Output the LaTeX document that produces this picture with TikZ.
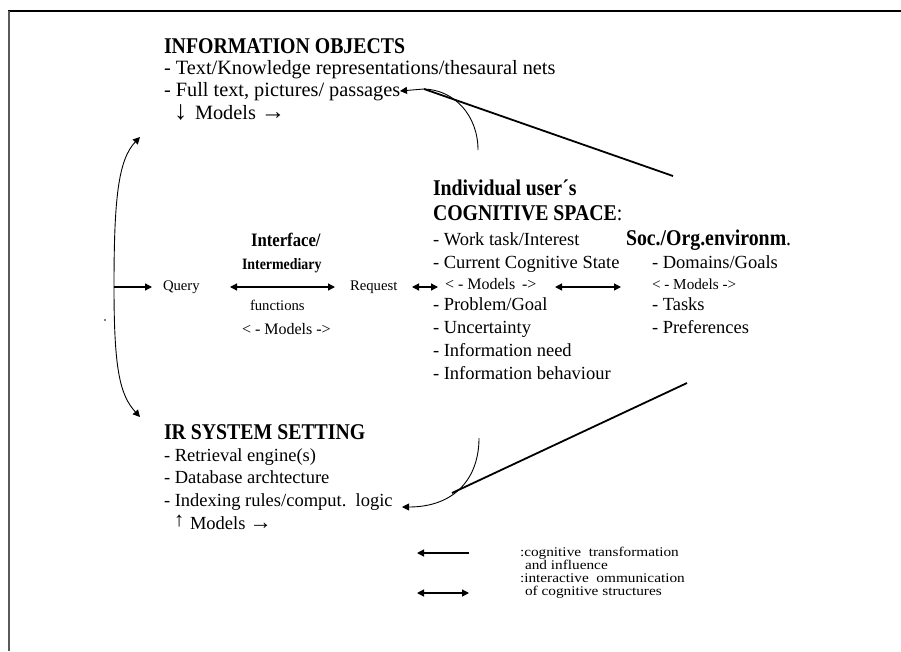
\documentclass[tikz,border=0pt]{standalone}
\usepackage{fontspec}
\usepackage{graphicx}
\setmainfont{Liberation Serif}
\newfontfamily\headfont{Liberation Serif}[FakeStretch=0.88]
\newfontfamily\legfont{Liberation Serif}[FakeStretch=1.15]
\usetikzlibrary{arrows.meta}
\begin{document}
\begin{tikzpicture}[x=1pt,y=-1pt,
  txt/.style={anchor=base west, inner sep=0pt, outer sep=0pt},
  head/.style={txt, font={\headfont\bfseries\fontsize{22.5}{24}\selectfont}},
  body/.style={txt, font={\fontsize{20.3}{22}\selectfont}},
  item/.style={txt, font={\fontsize{18.5}{22}\selectfont}},
  small/.style={txt, font={\fontsize{14.7}{16}\selectfont}},
  models/.style={txt, font={\fontsize{16}{18}\selectfont}},
  leg/.style={txt, font={\legfont\fontsize{13.3}{14}\selectfont}},
  tip/.tip={Triangle[length=7pt,width=7pt]},
  conn/.style={line width=1.3pt, -tip},
  both/.style={line width=1.3pt, tip-tip},
  thincurve/.style={line width=0.9pt},
  thickline/.style={line width=1.8pt}]
\useasboundingbox (0,0) rectangle (901,651);
\fill[white] (0,0) rectangle (901,651);
% frame
\draw[line width=1.5pt, black] (8,11) -- (901,11);
\draw[line width=2.5pt, black!65] (9,11) -- (9,651);

% INFORMATION OBJECTS
\node[head] (io) at (164,53) {INFORMATION OBJECTS};
\node[body] (io1) at (164,74) {- Text/Knowledge representations/thesaural nets};
\node[body] (io2) at (164,96) {- Full text, pictures/ passages};
\node[body] (io3) at (174,119) {\makebox[21pt][l]{\scalebox{1.3}{↓}}Models\hspace{5pt}\scalebox{1.2}{→}};

% Interface
\node[txt, font={\headfont\bfseries\fontsize{19}{20}\selectfont}] (if1) at (251,246) {Interface/};
\node[txt, font={\headfont\bfseries\fontsize{15.8}{17}\selectfont}] (if2) at (242,269) {Intermediary};
\node[small] (query) at (163,290) {Query};
\node[small] (request) at (350,290) {Request};
\node[small] (func) at (250,310) {functions};
\node[models] (ifm) at (242,334) {< - Models ->};

% Cognitive space
\node[head] (cs1) at (433,195) {Individual user´s};
\node[head] (cs2) at (433,220) {COGNITIVE SPACE\textmd{:}};
\node[item] (c1) at (433,245) {- Work task/Interest};
\node[item] (c2) at (433,268) {- Current Cognitive State};
\node[models] (cm) at (445,289) {< - Models \,->};
\node[item] (c3) at (433,310) {- Problem/Goal};
\node[item] (c4) at (433,333) {- Uncertainty};
\node[item] (c5) at (433,356) {- Information need};
\node[item] (c6) at (433,379) {- Information behaviour};

% Soc/Org
\node[head] (so) at (626,245) {Soc./Org.environm\textmd{.}};
\node[item] (s1) at (652,268) {- Domains/Goals};
\node[txt, font={\fontsize{15.2}{17}\selectfont}] (sm) at (652,289) {< - Models ->};
\node[item] (s2) at (652,310) {- Tasks};
\node[item] (s3) at (652,333) {- Preferences};

% IR system
\node[head] (ir) at (164,439) {IR SYSTEM SETTING};
\node[item] (ir1) at (164,461) {- Retrieval engine(s)};
\node[item] (ir2) at (164,483) {- Database archtecture};
\node[item] (ir3) at (164,506) {- Indexing rules/comput.\ \ logic};
\node[item] (ir4) at (174,529) {\makebox[16pt][l]{\raisebox{3pt}{\scalebox{1.1}{↑}}}Models\hspace{4pt}\scalebox{1.2}{→}};

% legend
\node[leg] (l1) at (520,556) {:cognitive\ \ transformation};
\node[leg] (l2) at (525,569) {and influence};
\node[leg] (l3) at (520,582) {:interactive\ \ ommunication};
\node[leg] (l4) at (525,595) {of cognitive structures};

% coordinates
\coordinate (split) at (114,287);
\coordinate (upT) at (140,137);
\coordinate (dnT) at (140,417);
\coordinate (qT) at (152,287);
\coordinate (ifL) at (230,287);
\coordinate (ifR) at (335,287);
\coordinate (rqL) at (412,287);
\coordinate (rqR) at (438,287);
\coordinate (soL) at (555,287);
\coordinate (soR) at (621,287);
\coordinate (topS) at (673,176);
\coordinate (topJ) at (424,89);
\coordinate (topC) at (478,150);
\coordinate (topT) at (400,91);
\coordinate (botS) at (687,383);
\coordinate (botJ) at (452,493);
\coordinate (botC) at (479,438);
\coordinate (botT) at (402,507);
\coordinate (lg1a) at (469,553);
\coordinate (lg1b) at (417,553);
\coordinate (lg2a) at (417,593);
\coordinate (lg2b) at (469,593);

% left bracket
\draw[thincurve, -tip] (split) .. controls (114,200) and (118,160) .. (upT);
\draw[thincurve, -tip] (split) .. controls (114,370) and (120,395) .. (dnT);
\draw[conn] (split) -- (qT);
\fill (105,320) circle (0.9);

% horizontal interactions
\draw[both] (ifL) -- (ifR);
\draw[both] (rqL) -- (rqR);
\draw[both] (soL) -- (soR);

% top feedback
\draw[thickline] (topS) -- (topJ);
\draw[thincurve, -tip] (topC) .. controls (478,116) and (455,90) .. (topJ) -- (topT);

% bottom feedback
\draw[thickline] (botS) -- (botJ);
\draw[thincurve, -tip] (botC) .. controls (479,478) and (455,507) .. (botT);

% legend arrows
\draw[conn] (lg1a) -- (lg1b);
\draw[both] (lg2a) -- (lg2b);
\end{tikzpicture}
\end{document}
